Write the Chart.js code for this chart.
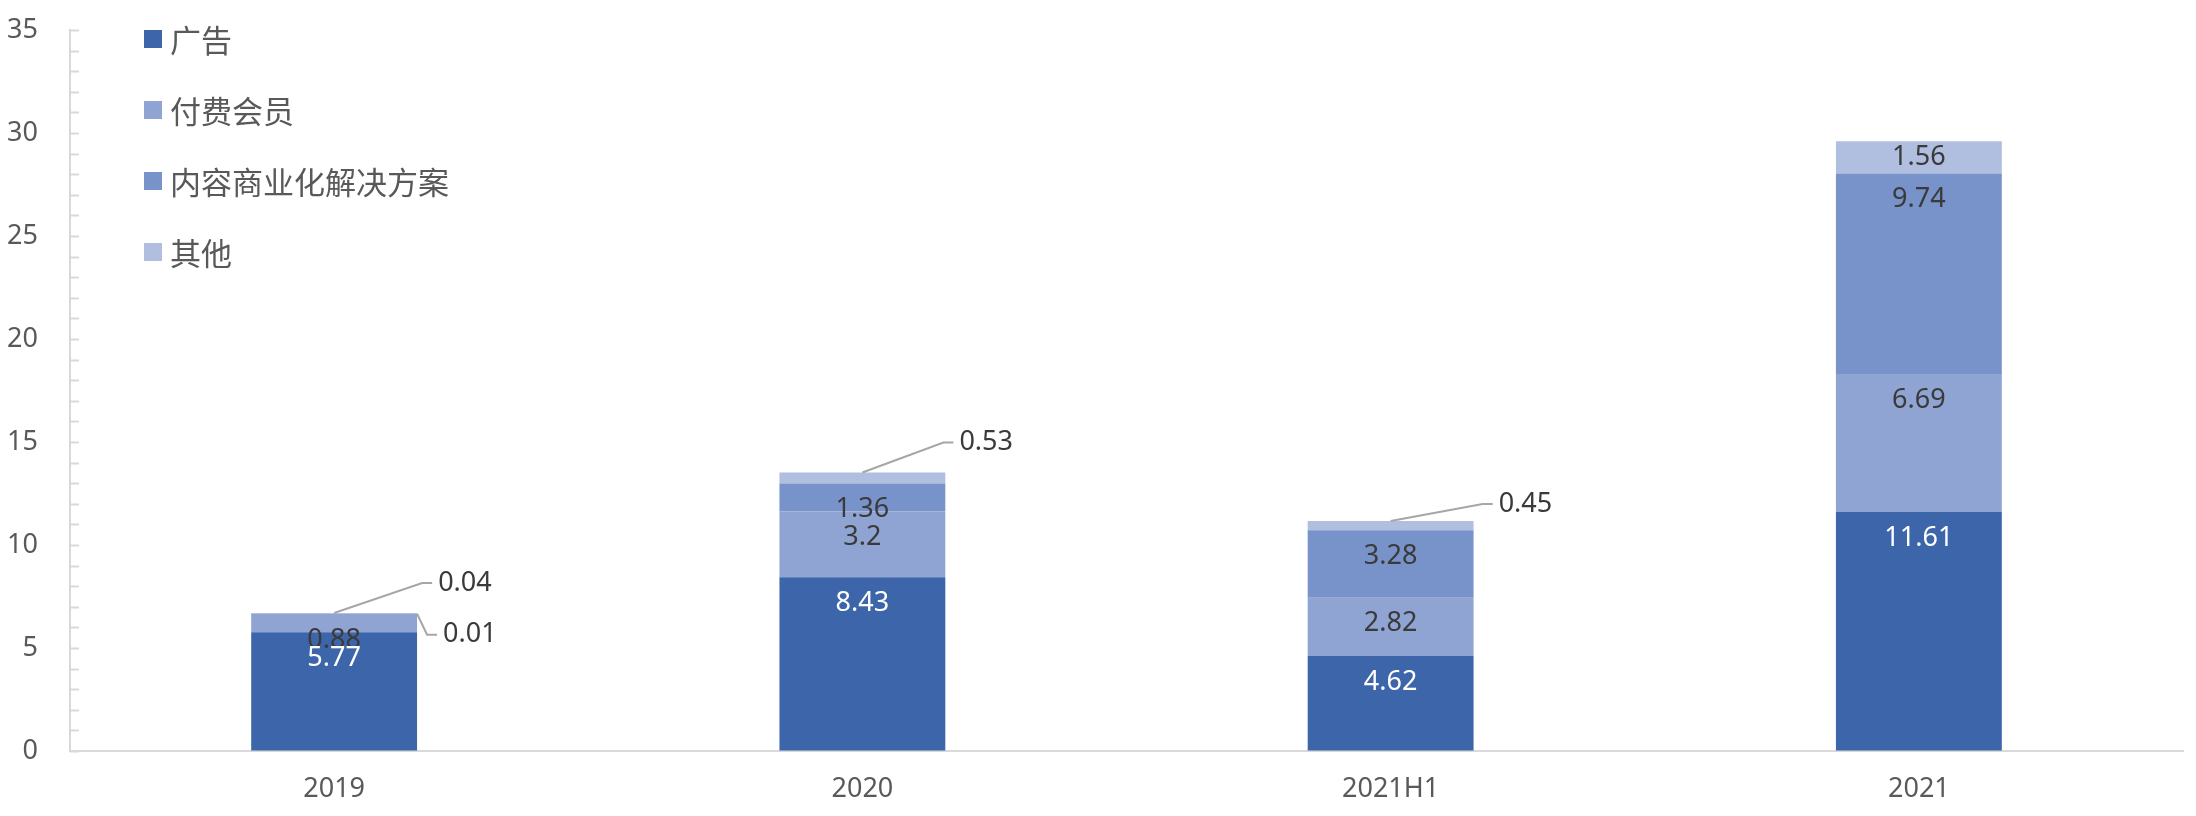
<!DOCTYPE html>
<html lang="zh">
<head>
    <meta charset="UTF-8">
    <title>收入构成</title>
    <script src="https://cdn.jsdelivr.net/npm/chart.js"></script>
    <style>
        html, body { margin: 0; padding: 0; background: #fff; }
        .wrap { width: 2196px; height: 816px; }
    </style>
</head>
<body>
    <div class="wrap"><canvas id="myChart" width="2196" height="816"></canvas></div>

    <script>
        const categories = ['2019', '2020', '2021H1', '2021'];
        const seriesNames = ['广告', '付费会员', '内容商业化解决方案', '其他'];
        const ads = [5.77, 8.43, 4.62, 11.61];
        const membership = [0.88, 3.2, 2.82, 6.69];
        const contentSolutions = [0.01, 1.36, 3.28, 9.74];
        const others = [0.04, 0.53, 0.45, 1.56];
        const yTicks = [0, 5, 10, 15, 20, 25, 30, 35];

        const colors = ['#3d65aa', '#8fa4d3', '#7892ca', '#b0bedf'];
        const labelColors = ['#ffffff', '#3a3a3a', '#3a3a3a', '#3a3a3a'];
        // 'end' = just inside the top of the segment, 'center' = middle
        const labelPos = ['end', 'end', 'end', 'center'];
        const numFont = '27px "Noto Sans", "DejaVu Sans", sans-serif';
        const cjkFont = '31px "Noto Sans CJK SC", sans-serif';

        // small segments that get a label with a leader line instead
        const callouts = [
            { ds: 3, idx: 0, anchor: 'top', dx: 88, dy: -30 },
            { ds: 2, idx: 0, anchor: 'right', dx: 10, dy: 21 },
            { ds: 3, idx: 1, anchor: 'top', dx: 81, dy: -30 },
            { ds: 3, idx: 2, anchor: 'top', dx: 92, dy: -17 }
        ];

        const minorTicks = {
            id: 'minorTicks',
            afterDraw(chart) {
                const y = chart.scales.y;
                const ctx = chart.ctx;
                ctx.save();
                ctx.strokeStyle = '#d9d9d9';
                ctx.lineWidth = 2;
                for (let v = y.min; v <= y.max; v++) {
                    const py = Math.round(y.getPixelForValue(v)) + 0.5;
                    ctx.beginPath();
                    ctx.moveTo(chart.chartArea.left, py);
                    ctx.lineTo(chart.chartArea.left + 9, py);
                    ctx.stroke();
                }
                ctx.restore();
            }
        };

        const barLabels = {
            id: 'barLabels',
            afterDatasetsDraw(chart) {
                const ctx = chart.ctx;
                ctx.save();
                ctx.font = numFont;
                ctx.textBaseline = 'middle';
                // top series first so the bottom labels end up on top where they overlap
                for (let di = chart.data.datasets.length - 1; di >= 0; di--) {
                    const ds = chart.data.datasets[di];
                    const meta = chart.getDatasetMeta(di);
                    meta.data.forEach((bar, i) => {
                        if (callouts.some(c => c.ds === di && c.idx === i)) return;
                        const ly = labelPos[di] === 'center' ? (bar.y + bar.base) / 2 : bar.y + 26;
                        ctx.fillStyle = labelColors[di];
                        ctx.textAlign = 'center';
                        ctx.fillText(String(ds.data[i]), bar.x, ly);
                    });
                }
                callouts.forEach(c => {
                    const bar = chart.getDatasetMeta(c.ds).data[c.idx];
                    const ax = c.anchor === 'right' ? bar.x + bar.width / 2 : bar.x;
                    const ay = bar.y;
                    const ex = ax + c.dx, ey = ay + c.dy;
                    ctx.strokeStyle = '#a6a6a6';
                    ctx.lineWidth = 2;
                    ctx.beginPath();
                    ctx.moveTo(ax, ay);
                    ctx.lineTo(ex, ey);
                    ctx.lineTo(ex + 10, ey);
                    ctx.stroke();
                    ctx.fillStyle = '#3a3a3a';
                    ctx.textAlign = 'left';
                    ctx.fillText(String(chart.data.datasets[c.ds].data[c.idx]), ex + 16, ey);
                });
                ctx.restore();
            }
        };

        const sideLegend = {
            id: 'sideLegend',
            afterDraw(chart) {
                const ctx = chart.ctx;
                ctx.save();
                ctx.font = cjkFont;
                ctx.textBaseline = 'middle';
                ctx.textAlign = 'left';
                chart.data.datasets.forEach((ds, i) => {
                    const cy = 39 + i * 71;
                    ctx.fillStyle = ds.backgroundColor;
                    ctx.fillRect(144, cy - 9, 18, 18);
                    ctx.fillStyle = '#595959';
                    ctx.fillText(ds.label, 170, cy + 1);
                });
                ctx.restore();
            }
        };

        const seriesData = [ads, membership, contentSolutions, others];
        const ctx = document.getElementById('myChart').getContext('2d');
        const myChart = new Chart(ctx, {
            type: 'bar',
            data: {
                labels: categories,
                datasets: seriesNames.map((name, i) => ({
                    label: name,
                    data: seriesData[i],
                    backgroundColor: colors[i],
                    borderWidth: 0,
                    barPercentage: 0.314,
                    categoryPercentage: 1
                }))
            },
            options: {
                responsive: false,
                animation: false,
                devicePixelRatio: 1,
                layout: { padding: { left: 0, top: 30, right: 13, bottom: 0 } },
                plugins: {
                    legend: { display: false },
                    tooltip: { enabled: false }
                },
                scales: {
                    x: {
                        stacked: true,
                        grid: { display: false, drawTicks: false },
                        border: { display: true, color: '#d9d9d9', width: 2 },
                        ticks: {
                            color: '#595959',
                            font: { family: '"Noto Sans", sans-serif', size: 27 },
                            padding: 22
                        },
                        afterFit(scale) { scale.height = 65; }
                    },
                    y: {
                        stacked: true,
                        min: 0,
                        max: 35,
                        afterBuildTicks(scale) { scale.ticks = yTicks.map(v => ({ value: v })); },
                        // invisible tick marks only to push the labels away from the axis
                        grid: {
                            display: true,
                            drawOnChartArea: false,
                            drawTicks: true,
                            tickLength: 29,
                            color: 'rgba(0,0,0,0)'
                        },
                        border: { display: true, color: '#d9d9d9', width: 2 },
                        ticks: {
                            color: '#595959',
                            font: { family: '"Noto Sans", sans-serif', size: 27 },
                            padding: 3
                        },
                        afterFit(scale) { scale.width = 70; }
                    }
                }
            },
            plugins: [minorTicks, barLabels, sideLegend]
        });
    </script>
</body>
</html>
